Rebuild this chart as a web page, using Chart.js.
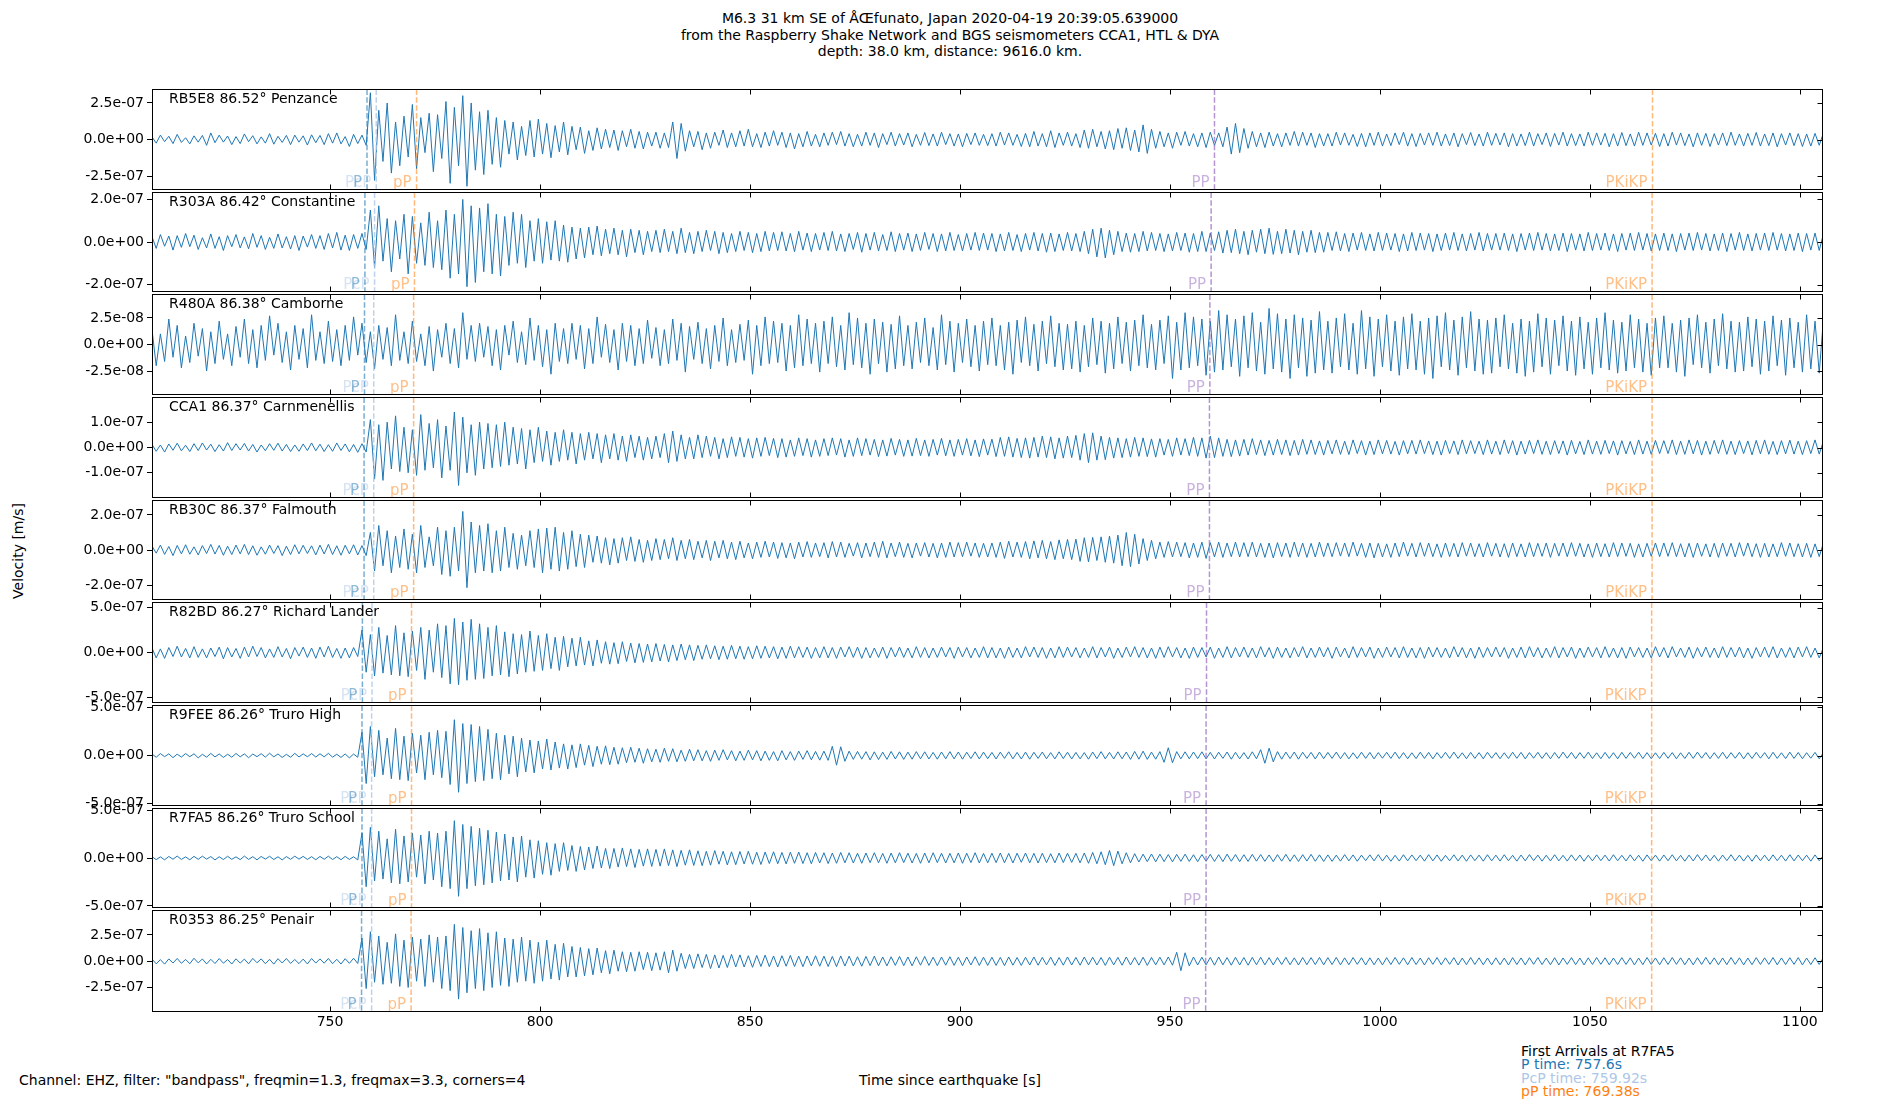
<!DOCTYPE html>
<html lang="en">
<head>
<meta charset="utf-8" />
<title>Seismograms at Cornish stations</title>
<style>
  * { margin: 0; padding: 0; }
  body {
    width: 1900px; height: 1100px; position: relative; overflow: hidden;
    background: #fff; color: #000;
    font-family: "DejaVu Sans", sans-serif; font-size: 14px;
  }
  canvas { position: absolute; left: 0; }
  .title { position: absolute; top: 10px; left: 0; width: 1900px; text-align: center; line-height: 16.5px; }
  .ylabel { position: absolute; left: 18px; top: 551px; transform: translate(-50%, -50%) rotate(-90deg); white-space: nowrap; }
  .channel { position: absolute; left: 19px; top: 1072px; line-height: 16px; white-space: nowrap; }
  .xlabel { position: absolute; left: 0; width: 1900px; top: 1072px; line-height: 16px; text-align: center; }
  .arrivals { position: absolute; left: 1521px; top: 1045px; line-height: 13.3px; white-space: nowrap; }
</style>
</head>
<body>
<div class="title">M6.3 31 km SE of ÅŒfunato, Japan 2020-04-19 20:39:05.639000<br>from the Raspberry Shake Network and BGS seismometers CCA1, HTL &amp; DYA<br>depth: 38.0 km, distance: 9616.0 km.</div>
<div class="ylabel">Velocity [m/s]</div>
<div class="channel">Channel: EHZ, filter: "bandpass", freqmin=1.3, freqmax=3.3, corners=4</div>
<div class="xlabel">Time since earthquake [s]</div>
<div class="arrivals">
  <div>First Arrivals at R7FA5</div>
  <div style="color:#1f77b4">P time: 757.6s</div>
  <div style="color:#aec7e8">PcP time: 759.92s</div>
  <div style="color:#ff7f0e">pP time: 769.38s</div>
</div>

<script src="https://cdn.jsdelivr.net/npm/chart.js"></script>
<script>
// traces in nm/s (1e-9 m/s), one sample per second from 707.6 s
const T0 = 707.6;
const DT = 1;

const RB5E8 = [
  18,-25,30,-15,22,-28,35,-20,12,-30,25,-18,28,-40,45,-22,30,-18,24,-35,20,-28,38,-15,26,-30,18,-25,40,-32,22,-20,28,-35,30,-18,25,-38,32,-22,
  28,-35,40,-25,45,-30,20,-48,35,-28,30,-40,320,-280,200,-150,250,-230,120,-180,160,-120,240,-200,150,-90,180,-220,170,-130,260,-300,220,-180,300,-320,250,-210,190,-240,
  200,-170,150,-190,130,-100,120,-140,90,-110,130,-120,140,-100,110,-125,95,-85,120,-105,90,-70,85,-95,60,-75,80,-65,70,-55,65,-75,60,-50,70,-60,55,-65,50,-45,
  50,-60,45,-55,120,-130,110,-80,60,-50,55,-70,45,-60,50,-40,65,-55,45,-50,60,-45,70,-50,40,-55,50,-45,60,-40,50,-55,45,-65,40,-50,55,-45,35,-50,
  45,-40,50,-35,55,-45,40,-50,35,-45,50,-40,45,-55,40,-35,50,-45,40,-38,45,-50,35,-40,48,-42,38,-45,50,-35,40,-45,38,-50,42,-35,45,-40,35,-42,
  40,-45,50,-38,45,-40,35,-48,42,-50,55,-45,40,-50,60,-55,45,-40,50,-45,40,-55,65,-60,70,-50,55,-65,60,-70,75,-60,80,-75,65,-85,100,-95,70,-60,
  55,-50,45,-60,50,-40,55,-45,40,-50,45,-55,50,-40,45,-50,85,-100,110,-90,75,-60,55,-50,45,-55,50,-45,40,-50,45,-40,55,-45,50,-40,45,-55,40,-45,
  40,-45,50,-38,45,-40,35,-48,42,-50,45,-40,50,-45,38,-42,45,-35,50,-45,40,-48,42,-38,45,-40,50,-45,38,-42,45,-50,40,-35,48,-42,38,-45,50,-40,
  42,-38,45,-50,40,-45,38,-42,50,-45,40,-35,45,-48,42,-38,50,-45,40,-42,38,-45,50,-40,45,-38,42,-50,40,-45,48,-42,38,-45,50,-40,45,-38,42,-48,
  40,-45,50,-38,45,-42,38,-50,45,-40,42,-48,40,-38,45,-42,50,-40,38,-45,42,-40,48,-45,38,-42,45,-50,40,-38,45,-42,40,-48,38,-45,42,-40,45,-38
];
const R303A = [
  25,-30,35,-20,28,-38,30,-25,40,-22,32,-35,20,-28,38,-30,25,-40,30,-22,35,-28,24,-32,40,-25,30,-35,22,-30,38,-28,25,-33,30,-40,28,-24,35,-30,
  30,-35,40,-28,45,-38,32,-40,35,-30,40,-35,150,-120,170,-90,110,-140,100,-80,130,-150,120,-100,90,-110,140,-120,100,-130,150,-170,130,-150,200,-210,170,-190,160,-140,
  180,-150,130,-160,120,-110,140,-100,130,-120,100,-90,110,-100,95,-85,100,-90,80,-95,70,-80,65,-75,70,-60,75,-65,60,-55,65,-60,55,-70,60,-50,55,-60,50,-45,
  55,-50,60,-45,50,-55,65,-50,45,-55,50,-45,55,-40,50,-55,45,-50,40,-45,50,-40,45,-50,40,-45,50,-42,45,-40,48,-42,40,-45,50,-38,42,-45,40,-38,
  45,-40,50,-42,38,-45,40,-35,45,-48,40,-38,45,-42,35,-40,48,-45,40,-38,42,-45,38,-40,45,-35,40,-45,38,-42,45,-40,35,-42,40,-38,45,-40,42,-38,
  40,-45,38,-42,45,-40,35,-45,40,-38,45,-42,40,-48,42,-45,38,-40,45,-42,40,-45,50,-55,60,-70,65,-75,55,-60,50,-45,42,-48,40,-45,50,-42,45,-40,
  40,-45,38,-42,45,-40,42,-48,40,-45,50,-45,42,-40,48,-52,55,-50,60,-55,50,-60,55,-48,60,-55,65,-58,50,-55,60,-52,55,-60,50,-48,55,-50,45,-48,
  45,-40,48,-42,40,-45,42,-38,45,-40,38,-42,45,-40,42,-38,40,-45,38,-42,45,-40,42,-38,40,-45,38,-40,42,-38,45,-40,38,-42,40,-38,45,-42,40,-38,
  40,-38,42,-40,38,-45,40,-38,42,-40,45,-38,40,-42,38,-40,42,-45,40,-38,38,-42,45,-40,40,-38,42,-40,38,-45,40,-38,42,-40,45,-38,40,-42,38,-40,
  42,-40,38,-45,40,-38,42,-40,45,-38,40,-42,38,-40,42,-45,40,-38,45,-40,38,-42,40,-38,42,-40,45,-38,40,-42,38,-40,42,-45,40,-38,42,-40,38,-40
];
const R480A = [
  14,-20,10,-16,24,-12,18,-22,8,-17,20,-11,15,-25,12,-18,22,-14,10,-20,17,-12,24,-18,14,-22,18,-15,27,-10,20,-17,12,-24,18,-14,15,-22,28,-15,
  12,-18,22,-16,14,-20,18,-15,26,-10,20,-17,12,-23,18,-14,16,-20,28,-15,12,-18,22,-16,10,-20,17,-25,14,-12,20,-18,15,-22,30,-14,18,-16,20,-12,
  17,-20,14,-24,18,-10,22,-17,12,-19,25,-15,18,-21,14,-28,20,-16,15,-18,20,-14,18,-23,15,-18,26,-12,19,-17,14,-24,20,-16,18,-20,15,-18,23,-13,
  16,-20,14,-18,24,-15,20,-26,17,-14,21,-18,15,-23,18,-16,25,-20,14,-17,19,-15,23,-28,18,-20,26,-18,22,-17,20,-25,18,-22,28,-20,24,-18,20,-26,
  22,-18,26,-21,18,-24,30,-19,25,-22,20,-28,24,-18,21,-26,19,-23,27,-20,18,-23,21,-17,25,-20,16,-24,28,-19,22,-26,20,-17,24,-21,18,-25,22,-19,
  25,-20,18,-24,21,-28,23,-17,26,-20,19,-25,22,-18,27,-21,20,-24,19,-23,22,-26,18,-21,25,-19,22,-27,20,-23,26,-18,21,-25,23,-20,28,-22,19,-24,
  23,-18,27,-32,21,-24,30,-22,26,-20,24,-29,22,-26,32,-24,28,-21,24,-30,27,-22,30,-25,21,-28,34,-23,29,-26,24,-32,28,-22,25,-30,23,-27,31,-24,
  22,-27,25,-21,29,-24,20,-28,32,-23,26,-30,24,-21,28,-25,22,-29,26,-23,29,-24,22,-28,25,-32,27,-21,30,-24,23,-29,26,-22,31,-25,24,-28,23,-27,
  25,-21,28,-23,20,-27,24,-30,22,-26,29,-21,25,-28,23,-20,27,-25,22,-29,26,-23,21,-28,25,-22,30,-24,23,-27,21,-25,28,-22,24,-26,20,-29,25,-22,
  27,-22,20,-26,23,-30,25,-19,28,-22,21,-27,24,-20,29,-23,22,-26,21,-25,26,-21,24,-28,22,-25,27,-20,23,-29,25,-22,21,-26,28,-23,22,-27,24,-21
];
const CCA1 = [
  12,-15,10,-18,14,-11,17,-13,9,-16,15,-12,18,-10,13,-16,11,-14,19,-12,15,-10,16,-14,12,-18,10,-13,15,-11,17,-14,12,-16,10,-15,14,-12,18,-13,
  13,-16,11,-15,18,-12,14,-17,12,-19,15,-18,110,-125,90,-130,100,-85,125,-95,80,-100,70,-110,130,-90,95,-80,110,-120,85,-90,140,-150,120,-100,90,-110,100,-85,
  95,-80,90,-75,100,-70,80,-65,75,-85,70,-60,80,-55,65,-70,60,-55,70,-50,60,-65,55,-50,60,-45,55,-60,50,-45,55,-50,45,-55,50,-40,45,-50,40,-45,
  45,-40,55,-60,65,-55,50,-45,40,-45,50,-40,45,-35,40,-45,35,-40,42,-35,40,-38,35,-42,38,-35,40,-32,36,-40,35,-38,30,-35,38,-32,35,-38,30,-35,
  35,-32,38,-30,35,-38,30,-35,38,-32,35,-30,32,-36,30,-34,36,-30,32,-35,30,-34,36,-32,30,-35,32,-30,36,-33,30,-35,32,-30,35,-33,30,-36,34,-30,
  33,-36,40,-35,42,-38,36,-40,38,-42,40,-38,45,-40,42,-45,38,-42,45,-40,48,-50,55,-60,58,-50,45,-48,40,-42,38,-40,35,-38,40,-35,38,-36,34,-38,
  35,-30,32,-35,38,-30,35,-32,40,-35,38,-42,45,-40,38,-35,32,-36,30,-34,32,-30,35,-28,30,-32,28,-30,32,-28,30,-32,28,-30,32,-27,30,-28,26,-30,
  28,-25,30,-27,25,-28,30,-24,27,-30,25,-28,30,-25,28,-26,24,-30,27,-25,28,-26,30,-24,26,-28,25,-30,28,-24,26,-28,30,-25,27,-24,25,-28,30,-26,
  25,-28,30,-24,27,-30,25,-26,28,-24,30,-27,25,-28,27,-24,26,-30,28,-25,24,-28,30,-26,25,-27,28,-24,26,-30,27,-25,24,-28,30,-26,25,-27,28,-24,
  27,-24,30,-28,25,-27,30,-25,28,-30,25,-27,28,-24,30,-27,25,-28,27,-24,26,-29,28,-25,30,-27,24,-28,27,-25,29,-26,25,-28,27,-24,30,-26,25,-28
];
const RB30C = [
  22,-18,28,-25,20,-32,26,-22,30,-24,18,-28,25,-20,32,-23,26,-30,22,-26,28,-22,32,-26,24,-30,18,-24,28,-20,25,-32,22,-26,30,-22,27,-20,24,-28,
  28,-23,32,-26,24,-30,27,-22,30,-28,25,-32,100,-120,140,-90,110,-130,80,-100,120,-110,90,-130,140,-100,75,-90,130,-140,110,-150,130,-120,220,-215,160,-130,140,-120,
  150,-130,110,-120,130,-100,95,-110,85,-90,110,-100,120,-130,125,-110,130,-120,100,-110,110,-95,90,-100,85,-70,80,-75,70,-85,65,-75,70,-60,75,-65,60,-70,55,-60,
  65,-55,60,-50,70,-60,55,-50,60,-55,50,-45,55,-60,50,-45,55,-50,45,-55,50,-45,40,-50,45,-42,50,-40,45,-48,42,-45,40,-50,45,-40,48,-42,40,-38,
  42,-45,48,-40,45,-42,38,-35,42,-45,40,-38,45,-42,50,-45,40,-38,45,-42,38,-45,40,-35,42,-40,38,-45,40,-42,45,-40,42,-38,45,-35,40,-42,38,-40,
  40,-42,45,-48,50,-40,45,-42,48,-50,52,-45,55,-50,48,-55,58,-50,60,-55,62,-65,70,-68,72,-60,75,-70,80,-75,85,-90,100,-95,90,-80,65,-60,55,-50,
  45,-42,48,-40,45,-38,42,-45,40,-42,45,-48,42,-40,45,-42,40,-38,45,-40,42,-38,45,-40,38,-42,40,-45,42,-38,40,-42,45,-38,40,-42,38,-40,45,-38,
  40,-38,42,-35,40,-38,45,-35,38,-42,40,-45,38,-40,35,-42,40,-38,45,-35,38,-40,42,-36,40,-38,35,-42,40,-38,38,-40,42,-35,40,-38,36,-40,42,-35,
  38,-40,36,-42,40,-38,35,-40,42,-38,38,-36,40,-42,38,-35,40,-38,42,-36,38,-40,35,-42,40,-38,36,-40,42,-38,40,-36,38,-42,35,-40,38,-36,40,-38,
  40,-36,42,-38,36,-40,38,-42,40,-36,35,-40,38,-42,40,-36,38,-40,42,-35,40,-38,36,-42,38,-40,35,-38,42,-36,40,-38,36,-40,38,-42,35,-38,40,-36
];
const R82BD = [
  50,-60,40,-65,55,-45,70,-50,45,-60,65,-55,40,-60,50,-45,60,-70,55,-50,45,-65,60,-50,70,-45,55,-60,40,-55,65,-50,45,-70,55,-40,60,-55,50,-65,
  60,-50,70,-55,45,-65,50,-60,55,-45,250,-220,200,-260,280,-230,190,-250,300,-260,220,-270,240,-200,280,-300,250,-220,320,-280,300,-350,380,-360,340,-310,370,-300,320,-290,
  280,-260,300,-250,230,-270,210,-240,200,-220,240,-210,190,-200,210,-180,170,-200,180,-160,160,-150,170,-140,130,-150,140,-120,120,-130,110,-125,120,-100,105,-115,100,-110,95,-105,
  100,-95,90,-105,85,-90,95,-80,85,-90,80,-75,85,-70,75,-80,70,-75,80,-70,70,-75,65,-70,75,-65,70,-60,65,-70,60,-65,70,-60,65,-55,60,-65,55,-60,
  65,-60,55,-65,60,-50,65,-55,60,-65,55,-60,50,-55,60,-65,55,-50,60,-55,50,-60,65,-55,55,-60,50,-55,60,-50,55,-65,60,-50,55,-60,50,-55,65,-60,
  55,-60,50,-65,60,-55,50,-60,65,-50,60,-55,55,-65,50,-60,65,-55,60,-50,55,-60,50,-55,65,-60,55,-50,60,-65,50,-55,60,-50,65,-55,55,-60,50,-65,
  60,-55,65,-50,55,-60,50,-65,60,-55,55,-50,60,-65,50,-55,65,-60,55,-50,60,-55,50,-60,65,-50,55,-65,60,-55,50,-60,55,-50,65,-60,50,-55,60,-50,
  55,-65,60,-50,50,-60,65,-55,55,-50,60,-65,50,-55,60,-50,55,-60,65,-55,50,-60,55,-65,60,-50,55,-55,50,-60,65,-50,55,-60,50,-65,60,-55,55,-50,
  60,-50,55,-65,50,-55,60,-60,65,-50,55,-60,50,-55,65,-60,55,-50,60,-65,50,-55,60,-50,55,-60,65,-55,50,-60,55,-65,60,-50,55,-55,50,-60,65,-50,
  55,-60,65,-50,50,-55,60,-65,55,-50,60,-55,50,-60,65,-55,55,-50,60,-60,50,-65,55,-50,60,-55,65,-60,50,-55,55,-60,60,-50,65,-55,50,-60,55,-52
];
const R9FEE = [
  15,-18,20,-12,17,-22,14,-16,20,-13,18,-24,12,-17,22,-15,16,-20,13,-18,21,-14,17,-23,15,-12,19,-17,24,-14,16,-20,12,-18,22,-15,17,-13,20,-16,
  18,-14,22,-17,13,-20,16,-24,15,-18,240,-290,300,-220,260,-200,180,-240,280,-250,200,-260,230,-180,210,-250,240,-200,260,-230,250,-300,370,-380,330,-290,320,-270,300,-260,
  270,-240,230,-250,210,-190,200,-220,180,-170,160,-180,150,-140,170,-150,140,-130,120,-140,110,-125,120,-100,105,-115,95,-90,100,-95,85,-90,80,-75,85,-70,75,-80,70,-65,
  65,-70,75,-60,70,-65,55,-60,65,-55,60,-55,50,-60,55,-50,60,-45,50,-55,45,-50,55,-45,50,-55,45,-50,40,-55,50,-45,40,-50,45,-40,50,-45,42,-48,
  45,-50,95,-100,90,-60,45,-40,42,-38,40,-45,38,-42,35,-40,42,-36,38,-40,35,-38,40,-34,38,-36,32,-38,36,-34,40,-35,36,-38,34,-32,38,-36,35,-33,
  32,-36,35,-30,38,-34,32,-36,35,-38,33,-30,36,-34,30,-35,38,-32,34,-36,32,-35,30,-38,36,-33,40,-35,32,-36,38,-34,36,-40,42,-38,45,-40,35,-38,
  40,-70,80,-75,40,-35,38,-34,36,-32,38,-35,32,-36,34,-30,36,-38,33,-35,30,-36,38,-34,60,-80,75,-65,40,-38,35,-32,36,-38,34,-30,32,-36,35,-33,
  32,-30,35,-33,30,-35,28,-32,34,-30,32,-35,30,-28,33,-30,35,-32,30,-33,28,-32,34,-30,32,-35,30,-28,33,-31,35,-30,28,-33,32,-30,30,-34,33,-28,
  30,-33,28,-31,34,-29,32,-35,30,-28,33,-31,29,-34,31,-30,35,-28,32,-33,30,-29,34,-31,28,-33,32,-30,29,-34,33,-30,31,-28,34,-32,30,-33,28,-31,
  32,-29,30,-34,28,-31,33,-30,35,-28,31,-33,29,-30,34,-32,30,-28,33,-35,29,-31,32,-28,30,-34,33,-30,28,-32,35,-30,31,-33,29,-28,32,-34,30,-31
];
const R7FA5 = [
  14,-17,12,-19,16,-13,20,-15,12,-18,17,-14,19,-12,15,-20,13,-16,18,-14,12,-17,20,-15,14,-19,16,-12,18,-16,13,-20,15,-14,19,-12,17,-15,14,-18,
  16,-13,19,-16,14,-18,17,-15,13,-20,260,-300,320,-240,280,-220,200,-260,300,-270,230,-250,260,-200,240,-270,280,-230,260,-300,280,-320,390,-400,350,-320,330,-290,310,-280,
  290,-260,270,-240,250,-230,220,-250,230,-200,190,-210,180,-170,160,-180,150,-140,160,-130,130,-140,120,-125,115,-110,125,-105,100,-110,100,-95,105,-90,95,-100,90,-85,95,-88,
  90,-85,95,-80,85,-90,80,-75,85,-78,75,-80,70,-75,78,-65,70,-72,65,-70,68,-62,70,-65,60,-68,62,-58,65,-60,58,-62,60,-55,62,-58,55,-60,58,-52,
  55,-58,52,-55,58,-50,55,-52,50,-55,52,-48,55,-50,48,-55,52,-50,55,-48,50,-52,48,-55,52,-50,55,-48,50,-52,48,-50,52,-55,50,-48,55,-52,48,-50,
  50,-48,52,-50,48,-52,50,-45,52,-50,48,-52,50,-48,45,-50,52,-48,50,-46,48,-50,52,-55,58,-60,65,-70,78,-80,72,-60,55,-50,45,-42,40,-38,42,-40,
  40,-38,36,-40,38,-35,40,-36,34,-38,36,-34,38,-36,35,-38,40,-34,36,-38,34,-36,38,-33,36,-35,32,-38,35,-33,38,-35,33,-36,35,-32,38,-34,33,-36,
  32,-35,30,-33,35,-30,32,-34,30,-28,33,-30,35,-32,30,-34,28,-32,34,-30,32,-28,30,-33,35,-30,32,-34,28,-30,33,-31,30,-34,32,-28,30,-33,34,-30,
  30,-32,34,-29,28,-33,31,-30,35,-28,30,-33,29,-31,34,-30,28,-32,33,-29,31,-34,29,-30,33,-28,30,-32,34,-29,28,-31,33,-30,29,-34,32,-28,30,-33,
  31,-29,34,-30,28,-33,30,-31,35,-28,32,-30,29,-33,31,-28,34,-30,30,-32,28,-34,32,-29,30,-31,33,-28,29,-32,34,-30,31,-28,30,-33,32,-29,28,-31
];
const R0353 = [
  20,-25,15,-28,22,-18,26,-20,17,-24,28,-16,21,-26,18,-22,25,-19,16,-27,23,-18,20,-25,27,-15,22,-24,18,-28,24,-17,26,-21,16,-23,20,-26,25,-18,
  22,-19,26,-24,18,-27,24,-20,28,-22,220,-260,280,-200,240,-220,180,-210,260,-240,200,-250,230,-190,210,-240,250,-200,230,-260,240,-280,350,-360,320,-300,290,-260,310,-280,
  270,-250,280,-230,220,-240,210,-200,230,-190,200,-210,180,-190,200,-170,160,-180,170,-150,140,-150,130,-140,120,-130,125,-110,100,-120,105,-95,90,-100,85,-95,90,-80,85,-90,
  80,-85,90,-110,105,-95,75,-70,65,-70,70,-60,65,-70,60,-65,55,-60,65,-55,60,-55,52,-58,55,-50,58,-52,50,-55,52,-48,55,-50,48,-52,50,-45,52,-48,
  48,-50,45,-52,50,-46,48,-45,42,-48,45,-42,48,-44,40,-45,42,-40,45,-42,40,-44,42,-38,45,-40,38,-42,40,-38,42,-40,38,-42,40,-36,42,-40,38,-40,
  38,-40,36,-42,40,-38,35,-40,38,-36,40,-38,36,-35,38,-40,35,-38,40,-36,36,-38,40,-35,38,-36,35,-40,38,-35,36,-38,40,-36,35,-38,38,-40,36,-35,
  38,-35,40,-38,85,-90,80,-45,40,-36,38,-35,36,-38,40,-35,35,-38,38,-36,35,-38,36,-34,38,-35,34,-36,35,-32,36,-34,32,-36,35,-33,34,-32,36,-35,
  34,-32,36,-35,32,-34,35,-30,33,-36,32,-34,30,-35,34,-32,36,-30,32,-34,35,-32,30,-36,33,-30,35,-34,32,-30,34,-36,30,-33,35,-31,32,-34,30,-35,
  32,-34,30,-36,34,-32,31,-35,33,-30,35,-32,30,-34,33,-36,31,-30,34,-33,30,-35,32,-31,35,-30,33,-34,30,-32,34,-31,32,-35,30,-33,35,-30,31,-34,
  33,-31,35,-30,32,-34,30,-35,33,-31,36,-30,32,-34,31,-33,35,-30,32,-35,30,-33,34,-31,32,-30,35,-34,31,-32,33,-30,34,-35,30,-32,33,-31,35,-30
];

const TRACES = [RB5E8, R303A, R480A, CCA1, RB30C, R82BD, R9FEE, R7FA5, R0353];
const STATION_LABELS = [
  'RB5E8 86.52° Penzance', 'R303A 86.42° Constantine', 'R480A 86.38° Camborne',
  'CCA1 86.37° Carnmenellis', 'RB30C 86.37° Falmouth', 'R82BD 86.27° Richard Lander',
  'R9FEE 86.26° Truro High', 'R7FA5 86.26° Truro School', 'R0353 86.25° Penair'
];
// y axis half range and labelled tick, nm/s
const Y_LIMITS = [343, 233, 47.2, 198, 283, 559, 518, 518, 483];
const Y_TICKS = [250, 200, 25, 100, 200, 500, 500, 500, 250];

// predicted arrival times per station (s)
const PHASES = ['PcP', 'P', 'pP', 'PP', 'PKiKP'];
const ARRIVALS = [
  [761.0, 760.6, 760.4, 760.4, 760.4, 760.0, 759.9, 759.9, 759.9],
  [758.8, 758.3, 758.2, 758.1, 758.1, 757.7, 757.6, 757.6, 757.5],
  [770.6, 770.1, 769.9, 769.9, 769.9, 769.4, 769.4, 769.4, 769.3],
  [960.6, 959.8, 959.5, 959.4, 959.4, 958.7, 958.6, 958.6, 958.5],
  [1064.9, 1064.8, 1064.8, 1064.8, 1064.8, 1064.7, 1064.7, 1064.7, 1064.7]
];
const PHASE_COLORS = ['#aec7e8', '#1f77b4', '#ff7f0e', '#9467bd', '#ff7f0e'];
const LINE_ALPHA = [0.8, 0.6, 0.55, 0.7, 0.55];

const X_MIN = 707.6, X_MAX = 1105.5;
const X_TICKS = [750, 800, 850, 900, 950, 1000, 1050, 1100];

const FIG_W = 1900;
const PLOT_LEFT = 152, PLOT_RIGHT = 1823, PLOT_TOP = 88, PLOT_BOTTOM = 1012;
const PAD = 10, XAXIS_H = 40;
const NM = 1e-9;

Chart.defaults.font.family = '"DejaVu Sans", sans-serif';
Chart.defaults.font.size = 14;
Chart.defaults.color = '#000';

function expLabel(v) {
  const [m, e] = v.toExponential(1).split('e');
  return m + 'e' + e[0] + e.slice(1).padStart(2, '0');
}

function decor(i) {
  return {
    id: 'decor' + i,
    afterDatasetsDraw(chart) {
      const { ctx, chartArea: a, scales: { x, y } } = chart;
      ctx.save();
      ctx.font = '15px "DejaVu Sans"';
      ctx.textAlign = 'right';
      ctx.textBaseline = 'alphabetic';
      PHASES.forEach((ph, j) => {
        const px = x.getPixelForValue(ARRIVALS[j][i]);
        ctx.globalAlpha = LINE_ALPHA[j];
        ctx.strokeStyle = PHASE_COLORS[j];
        ctx.lineWidth = 1.5;
        ctx.setLineDash([5.5, 2.4]);
        ctx.beginPath();
        ctx.moveTo(px, a.top);
        ctx.lineTo(px, a.bottom);
        ctx.stroke();
        ctx.setLineDash([]);
        ctx.globalAlpha = 0.5;
        ctx.fillStyle = PHASE_COLORS[j];
        ctx.fillText(ph, px - 5, a.bottom - 3);
      });

      // frame and inward ticks
      ctx.globalAlpha = 1;
      ctx.strokeStyle = '#000';
      ctx.lineWidth = 1;
      const l = Math.round(a.left) + 0.5, r = Math.round(a.right) - 0.5;
      const t = Math.round(a.top) + 0.5, b = Math.round(a.bottom) - 0.5;
      ctx.strokeRect(l, t, r - l, b - t);
      ctx.beginPath();
      X_TICKS.forEach(v => {
        const px = Math.round(x.getPixelForValue(v)) + 0.5;
        ctx.moveTo(px, t); ctx.lineTo(px, t + 5);
        ctx.moveTo(px, b); ctx.lineTo(px, b - 5);
      });
      [-Y_TICKS[i], 0, Y_TICKS[i]].forEach(v => {
        const py = Math.round(y.getPixelForValue(v * NM)) + 0.5;
        ctx.moveTo(r, py); ctx.lineTo(r - 5, py);
      });
      ctx.stroke();

      ctx.fillStyle = '#000';
      ctx.font = '14px "DejaVu Sans"';
      ctx.textAlign = 'left';
      ctx.textBaseline = 'middle';
      ctx.fillText(STATION_LABELS[i], a.left + 17, a.top + 10);
      ctx.restore();
    }
  };
}

const panelH = (PLOT_BOTTOM - PLOT_TOP) / TRACES.length;

TRACES.forEach((trace, i) => {
  const last = i === TRACES.length - 1;
  const y0 = Math.round(PLOT_TOP + i * panelH);
  const y1 = Math.round(PLOT_TOP + (i + 1) * panelH);
  const h = (y1 - y0) + PAD + (last ? XAXIS_H : PAD);

  const canvas = document.createElement('canvas');
  canvas.width = FIG_W;
  canvas.height = h;
  canvas.style.top = (y0 - PAD) + 'px';
  document.body.appendChild(canvas);

  const points = trace.map((v, k) => ({ x: T0 + k * DT, y: v * NM }));

  new Chart(canvas, {
    type: 'line',
    data: {
      datasets: [{
        data: points,
        borderColor: '#1f77b4',
        borderWidth: 1,
        pointRadius: 0,
        tension: 0
      }]
    },
    options: {
      responsive: false,
      devicePixelRatio: 1,
      animation: false,
      layout: { padding: { left: 0, right: FIG_W - PLOT_RIGHT, top: PAD, bottom: last ? 0 : PAD } },
      plugins: { legend: { display: false }, tooltip: { enabled: false } },
      scales: {
        x: {
          type: 'linear',
          min: X_MIN,
          max: X_MAX,
          display: last,
          afterBuildTicks: s => { s.ticks = X_TICKS.map(v => ({ value: v })); },
          afterFit: s => { if (last) s.height = XAXIS_H; },
          grid: { display: false, drawTicks: false },
          border: { display: false },
          ticks: { padding: 2, maxRotation: 0, autoSkip: false, callback: v => String(v) }
        },
        y: {
          min: -Y_LIMITS[i] * NM,
          max: Y_LIMITS[i] * NM,
          afterBuildTicks: s => { s.ticks = [-Y_TICKS[i], 0, Y_TICKS[i]].map(v => ({ value: v * NM })); },
          afterFit: s => { s.width = PLOT_LEFT; },
          grid: { drawOnChartArea: false, drawTicks: true, tickLength: 5, color: '#000' },
          border: { display: false },
          ticks: { padding: 3, autoSkip: false, callback: v => expLabel(v) }
        }
      }
    },
    plugins: [decor(i)]
  });
});
</script>
</body>
</html>
